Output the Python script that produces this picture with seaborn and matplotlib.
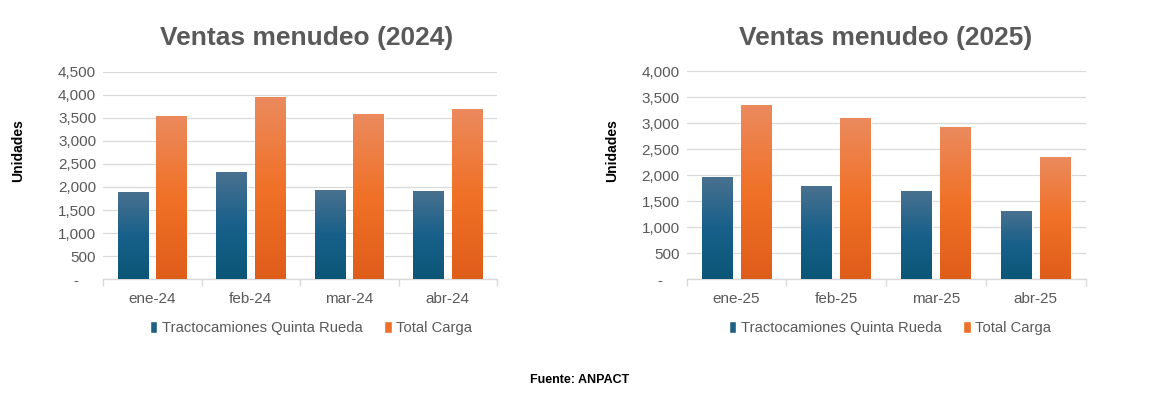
import numpy as np
import pandas as pd
import matplotlib
matplotlib.use('Agg')
import matplotlib.pyplot as plt
import seaborn as sns
from matplotlib.colors import LinearSegmentedColormap
from matplotlib.patches import Patch
from matplotlib.ticker import FuncFormatter, MultipleLocator, FixedLocator

sns.set_theme(style='white')
plt.rcParams['font.family'] = ['Liberation Sans', 'DejaVu Sans']

# ---- data ----
series = ['Tractocamiones Quinta Rueda', 'Total Carga']
meses_2024 = ['ene-24', 'feb-24', 'mar-24', 'abr-24']
quinta_2024 = [1890, 2325, 1935, 1915]
total_2024 = [3540, 3950, 3585, 3690]
meses_2025 = ['ene-25', 'feb-25', 'mar-25', 'abr-25']
quinta_2025 = [1965, 1790, 1695, 1310]
total_2025 = [3345, 3100, 2925, 2350]

BLUE = '#1f5f85'; ORANGE = '#ee6f28'
GRAY = '#595959'; GRID = '#d9d9d9'
cmaps = [LinearSegmentedColormap.from_list('b', ['#0b5677', '#18608a', '#4a718f']),
         LinearSegmentedColormap.from_list('o', ['#df5d1a', '#f07127', '#eb8a5e'])]


def make_df(meses, q, t):
    return pd.DataFrame({'mes': meses * 2,
                         'unidades': q + t,
                         'serie': [series[0]] * len(meses) + [series[1]] * len(meses)})


def yfmt(v, pos):
    return '-    ' if v == 0 else f'{v:,.0f}'


fig = plt.figure(figsize=(11.5, 3.95), dpi=100)
ax1 = fig.add_axes([0.0896, 0.293, 0.3426, 0.5256])
ax2 = fig.add_axes([0.597, 0.293, 0.347, 0.527])

panels = [(ax1, make_df(meses_2024, quinta_2024, total_2024), 4500, '2024', 307),
          (ax2, make_df(meses_2025, quinta_2025, total_2025), 4000, '2025', 886)]

for ax, df, ymax, year, xc in panels:
    sns.barplot(data=df, x='mes', y='unidades', hue='serie', palette=[BLUE, ORANGE],
                width=0.78, gap=0.21, legend=False, ax=ax, zorder=2)
    # vertical gradient fill clipped to each bar
    grad = np.linspace(0, 1, 200).reshape(-1, 1)
    for cont, cm in zip(ax.containers, cmaps):
        for bar in cont:
            x0, y0 = bar.get_x(), bar.get_y()
            w, h = bar.get_width(), bar.get_height()
            im = ax.imshow(grad, cmap=cm, extent=[x0, x0 + w, y0, y0 + h],
                           aspect='auto', origin='lower', zorder=3)
            im.set_clip_path(bar)
    ax.set_xlim(-0.5, 3.5)
    ax.set_ylim(0, ymax)
    ax.yaxis.set_major_locator(MultipleLocator(500))
    ax.yaxis.set_major_formatter(FuncFormatter(yfmt))
    ax.grid(axis='y', color=GRID, lw=0.9, zorder=0)
    ax.set_axisbelow(True)
    for s in ['top', 'right', 'left']:
        ax.spines[s].set_visible(False)
    ax.spines['bottom'].set_color(GRID)
    ax.spines['bottom'].set_linewidth(1.0)
    ax.xaxis.set_minor_locator(FixedLocator([-0.5, 0.5, 1.5, 2.5, 3.5]))
    ax.tick_params(axis='x', which='major', length=0, pad=9, labelsize=11, labelcolor=GRAY)
    ax.tick_params(axis='x', which='minor', length=5, width=1, color=GRID, direction='out', bottom=True)
    ax.tick_params(axis='y', length=0, pad=5, labelsize=11, labelcolor=GRAY)
    ax.set_xlabel('')
    ax.set_ylabel('')
    fig.text(xc / 1150, 1 - 38 / 395, f'Ventas menudeo ({year})', ha='center', va='center',
             fontsize=19, fontweight='bold', color=GRAY)
    handles = [Patch(facecolor=BLUE), Patch(facecolor=ORANGE)]
    fig.legend(handles, series, loc='center', bbox_to_anchor=((xc + 4) / 1150, 1 - 328 / 395),
               ncol=2, frameon=False, handlelength=0.5, handleheight=0.8, handletextpad=0.3,
               columnspacing=1.5, prop={'size': 10.6}, labelcolor=GRAY)

fig.text(18 / 1150, 1 - 151 / 395, 'Unidades', rotation=90, ha='center', va='center',
         fontsize=10, fontweight='bold', color='black')
fig.text(612 / 1150, 1 - 151 / 395, 'Unidades', rotation=90, ha='center', va='center',
         fontsize=10, fontweight='bold', color='black')
fig.text(580 / 1150, 1 - 380 / 395, 'Fuente: ANPACT', ha='center', va='center',
         fontsize=9, fontweight='bold', color='black')

fig.savefig('out.png', dpi=100, facecolor='white')
